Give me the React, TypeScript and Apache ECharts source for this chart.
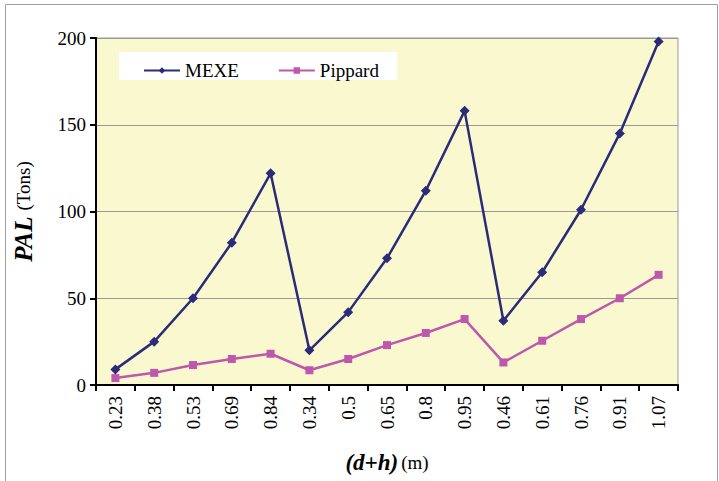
import React, { useEffect, useRef } from "react";
import * as echarts from "echarts";

const categories = ["0.23", "0.38", "0.53", "0.69", "0.84", "0.34", "0.5", "0.65", "0.8", "0.95", "0.46", "0.61", "0.76", "0.91", "1.07"];
const mexe = [9, 25, 50, 82, 122, 20, 42, 73, 112, 158, 37, 65, 101, 145, 198];
const pippard = [4, 7, 11.5, 15, 18, 8.5, 15, 23, 30, 38, 13, 25.5, 38, 50, 63.5];
const yTicks = [0, 50, 100, 150, 200];

const FONT = "'Liberation Serif', 'Times New Roman', serif";

export default function App() {
  const ref = useRef<HTMLDivElement>(null);
  useEffect(() => {
    document.body.style.margin = "0";
    if (!ref.current) return;
    const chart = echarts.init(ref.current, null, { renderer: "svg" });
    chart.setOption({
      animation: false,
      backgroundColor: "#ffffff",
      textStyle: { fontFamily: FONT },
      graphic: [
        {
          type: "rect",
          shape: { x: 5.5, y: 4.5, width: 712, height: 490 },
          style: { fill: "none", stroke: "#a0a0a0", lineWidth: 1 },
          silent: true,
          z: -10,
        },
        {
          type: "rect",
          shape: { x: 119, y: 52, width: 278, height: 28 },
          style: { fill: "#ffffff" },
          z: 5,
          silent: true,
        },
      ],
      legend: {
        left: 138,
        top: 56,
        itemGap: 39,
        itemWidth: 36,
        itemHeight: 8,
        textStyle: { fontFamily: FONT, fontSize: 19, color: "#000" },
        data: ["MEXE", "Pippard"],
        z: 10,
      },
      grid: {
        left: 96,
        right: 41,
        top: 38,
        bottom: 96,
        show: true,
        backgroundColor: "#FAF8CE",
        borderColor: "#999999",
        borderWidth: 1,
      },
      xAxis: {
        type: "category",
        data: categories,
        boundaryGap: true,
        axisLine: { lineStyle: { color: "#000", width: 2 } },
        axisTick: { show: true, length: 6, lineStyle: { color: "#000", width: 2 }, alignWithLabel: false },
        axisLabel: { rotate: 90, fontFamily: FONT, fontSize: 19, color: "#000", margin: 11 },
        name: "{b|(d+h)} {r|(m)}",
        nameLocation: "middle",
        nameGap: 66,
        nameTextStyle: {
          rich: {
            b: { fontFamily: FONT, fontSize: 23, fontWeight: "bold", fontStyle: "italic", color: "#000" },
            r: { fontFamily: FONT, fontSize: 19, color: "#000" },
          },
        },
      },
      yAxis: {
        type: "value",
        min: 0,
        max: 200,
        interval: 50,
        axisLine: { show: true, lineStyle: { color: "#000", width: 2 } },
        axisTick: { show: true, length: 6, lineStyle: { color: "#000", width: 2 } },
        axisLabel: {
          fontFamily: FONT,
          fontSize: 19,
          color: "#000",
          margin: 10,
          formatter: (v: number) => (yTicks.includes(v) ? String(v) : ""),
        },
        splitLine: { show: true, lineStyle: { color: "#999999", width: 1 } },
        name: "{b|PAL}  {r|(Tons)}",
        nameLocation: "middle",
        nameGap: 60,
        nameRotate: 90,
        nameTextStyle: {
          rich: {
            b: { fontFamily: FONT, fontSize: 25, fontWeight: "bold", fontStyle: "italic", color: "#000" },
            r: { fontFamily: FONT, fontSize: 19, color: "#000" },
          },
        },
      },
      series: [
        {
          name: "MEXE",
          type: "line",
          data: mexe,
          symbol: "diamond",
          symbolSize: 10,
          itemStyle: { color: "#2B2B7A" },
          lineStyle: { color: "#2B2B7A", width: 2.5 },
          z: 3,
        },
        {
          name: "Pippard",
          type: "line",
          data: pippard,
          symbol: "rect",
          symbolSize: 8,
          itemStyle: { color: "#BE58AE" },
          lineStyle: { color: "#BE58AE", width: 2.5 },
          z: 2,
        },
      ],
    });
    return () => chart.dispose();
  }, []);
  return <div ref={ref} style={{ width: 719, height: 481 }} />;
}
